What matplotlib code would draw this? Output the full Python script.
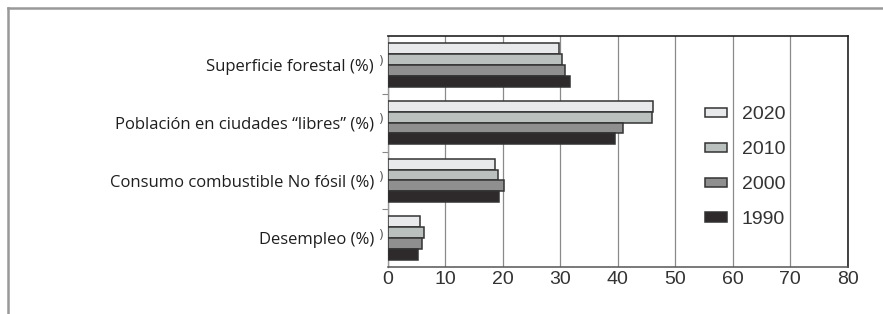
import numpy as np
import matplotlib.pyplot as plt
from matplotlib.lines import Line2D
import matplotlib.transforms as mtransforms

# datos (de arriba hacia abajo en el gráfico)
categorias = [
    "Superficie forestal (%)",
    "Población en ciudades “libres” (%)",
    "Consumo combustible No fósil (%)",
    "Desempleo (%)",
]
anios = ["2020", "2010", "2000", "1990"]
v2020 = [29.8, 46.1, 18.6, 5.6]
v2010 = [30.3, 46.0, 19.2, 6.2]
v2000 = [30.9, 40.9, 20.2, 6.0]
v1990 = [31.6, 39.5, 19.3, 5.3]
xticks = [0, 10, 20, 30, 40, 50, 60, 70, 80]

colores = ["#e8e9eb", "#b9c0be", "#8f8f8f", "#2e2a2b"]
series = [v2020, v2010, v2000, v1990]

fig = plt.figure(figsize=(8.83, 3.14), dpi=100)
ax = fig.add_axes([388 / 883, 1 - 267 / 314, 459.5 / 883, 231 / 314])

n = len(categorias)
pos = np.arange(n)[::-1]  # Superficie arriba
h = 0.1875
for k, (vals, col, lab) in enumerate(zip(series, colores, anios)):
    ax.barh(pos + (1.5 - k) * h, vals, height=h, color=col,
            edgecolor="#333333", linewidth=1.1, label=lab, zorder=3)

ax.set_xlim(0, 80)
ax.set_ylim(-0.5, n - 0.5)
ax.set_xticks(xticks)
ax.set_xticklabels([str(t) for t in xticks], fontsize=14,
                   family="Liberation Sans", color="#333333")
ax.tick_params(axis="x", length=0, pad=3)
ax.grid(axis="x", color="#8a8a8a", linewidth=0.9, zorder=0)

ax.set_yticks(pos)
ax.set_yticklabels(categorias, fontsize=12, family="Open Sans", color="#1e1e1e")
ax.tick_params(axis="y", length=0, pad=10)
ax.set_yticks(np.arange(n - 1) + 0.5, minor=True)
ax.tick_params(axis="y", which="minor", length=4, color="#888888", width=0.8)

# pequeñas marcas ")" junto al eje
trans = mtransforms.blended_transform_factory(ax.transAxes, ax.transData)
for p in pos:
    ax.text(-0.014, p + 0.05, ")", transform=trans, fontsize=9, color="#555555",
            ha="center", va="center")

for s in ["top", "right"]:
    ax.spines[s].set_color("#222222")
    ax.spines[s].set_linewidth(1.2)
ax.spines["bottom"].set_color("#555555")
ax.spines["bottom"].set_linewidth(1.1)
ax.spines["left"].set_color("#999999")
ax.spines["left"].set_linewidth(1.0)

leg = ax.legend(loc="upper left", bbox_to_anchor=(0.69, 0.695), frameon=False,
                prop={"family": "Liberation Sans", "size": 14},
                handlelength=1.13, handleheight=0.36, handletextpad=0.77,
                labelspacing=0.92, borderpad=0, borderaxespad=0)
for t in leg.get_texts():
    t.set_color("#333333")

# marco exterior
fig.add_artist(Line2D([8 / 883, 1], [1 - 8 / 314, 1 - 8 / 314],
                      transform=fig.transFigure, color="#999999", linewidth=1.8))
fig.add_artist(Line2D([8 / 883, 8 / 883], [0, 1 - 8 / 314],
                      transform=fig.transFigure, color="#999999", linewidth=1.8))

fig.savefig("out.png", dpi=100)
